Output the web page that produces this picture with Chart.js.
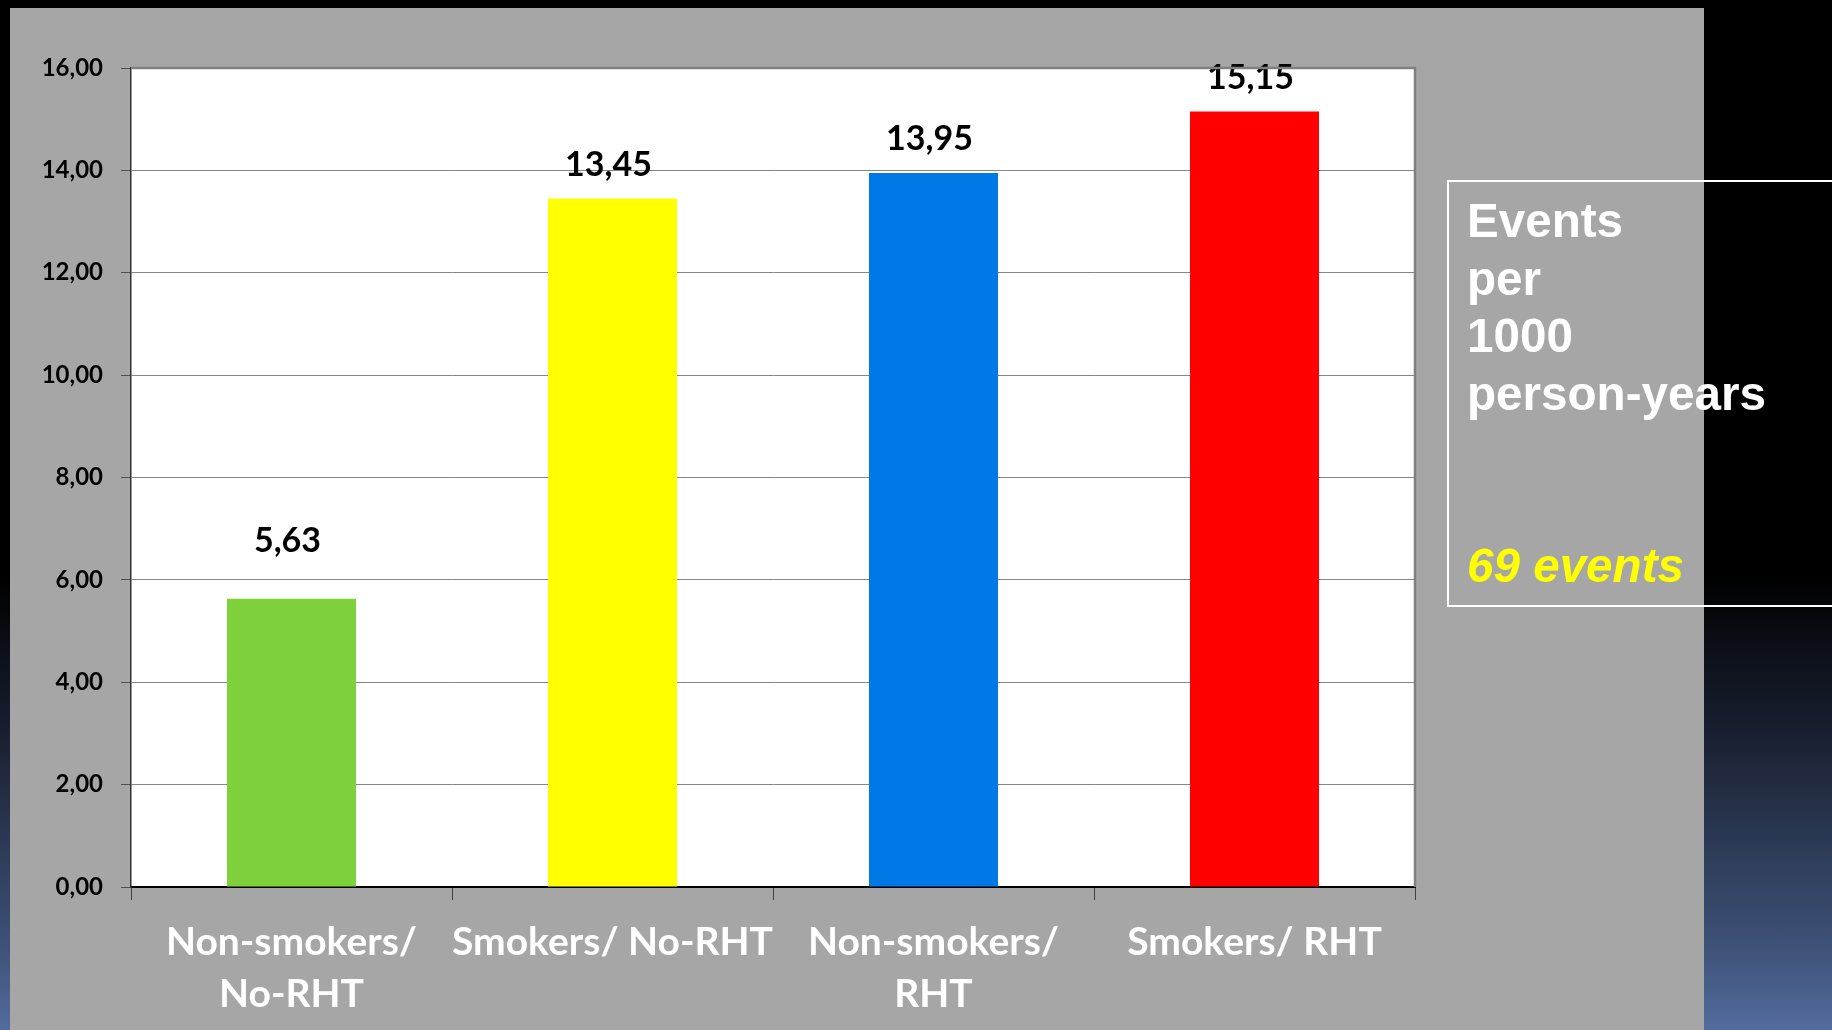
<!DOCTYPE html>
<html>
<head>
<meta charset="utf-8">
<title>Events per 1000 person-years</title>
<script src="https://cdn.jsdelivr.net/npm/chart.js@4.4.1/dist/chart.umd.min.js"></script>
<style>
  html, body { margin: 0; padding: 0; width: 1832px; height: 1030px; overflow: hidden; }
  body {
    position: relative;
    background: linear-gradient(to bottom, #000 0%, #000 56%, #0a0d14 62%, #1a2133 72%, #2c3a55 82%, #3e5278 92%, #536b9d 100%);
    font-family: 'Liberation Sans', Arial, sans-serif;
  }
  #panel { position: absolute; left: 10px; top: 8px; width: 1694px; height: 1022px; background: #a6a6a6; }
  #wrap { position: absolute; left: 0; top: 0; width: 1832px; height: 1030px; }
  #note {
    position: absolute; left: 1447px; top: 180px; width: 420px; height: 427px;
    border: 2px solid #fff; box-sizing: border-box;
  }
  #note .txt {
    position: absolute; left: 18px; white-space: nowrap;
    font-weight: bold; font-size: 47.6px; line-height: 57.5px;
  }
  #unit { top: 10px; color: #fff; }
  #count { top: 355px; color: #ffff00; font-style: italic; }
</style>
</head>
<body>
<div id="panel"></div>
<div id="wrap"><canvas id="chart" width="1832" height="1030"></canvas></div>
<div id="note">
  <div class="txt" id="unit">Events<br>per<br>1000<br>person-years</div>
  <div class="txt" id="count">69 events</div>
</div>
<script>
// Incidence by smoking status and hormone therapy
const categories = [
  ['Non-smokers/', 'No-RHT'],
  ['Smokers/ No-RHT'],
  ['Non-smokers/', 'RHT'],
  ['Smokers/ RHT']
];
const rates = [5.63, 13.45, 13.95, 15.15];
const yTickLabels = ['0,00', '2,00', '4,00', '6,00', '8,00', '10,00', '12,00', '14,00', '16,00'];
const barColors = ['#7fd13b', '#ffff00', '#0079e6', '#ff0000'];

const fmt = v => v.toFixed(2).replace('.', ',');

// white plot area plus the grey frame on its top and right edges
const plotFrame = {
  id: 'plotFrame',
  beforeDraw(chart) {
    const { ctx, chartArea: a } = chart;
    ctx.save();
    ctx.fillStyle = '#ffffff';
    ctx.fillRect(a.left, a.top, a.right - a.left, a.bottom - a.top);
    ctx.restore();
  },
  afterDraw(chart) {
    const { ctx, chartArea: a } = chart;
    ctx.save();
    ctx.strokeStyle = '#808080';
    ctx.lineWidth = 2.5;
    ctx.beginPath();
    ctx.moveTo(a.left, a.top);
    ctx.lineTo(a.right, a.top);
    ctx.lineTo(a.right, a.bottom);
    ctx.stroke();
    ctx.restore();
  }
};

// value printed above each bar
const valueLabels = {
  id: 'valueLabels',
  afterDatasetsDraw(chart, args, opts) {
    const { ctx } = chart;
    const meta = chart.getDatasetMeta(0);
    ctx.save();
    ctx.font = opts.font;
    ctx.fillStyle = opts.color;
    ctx.textAlign = 'center';
    ctx.textBaseline = 'alphabetic';
    meta.data.forEach((bar, i) => {
      const lift = opts.gap + (opts.extraLift[i] || 0);
      ctx.fillText(fmt(chart.data.datasets[0].data[i]), bar.x - 4, bar.y - lift);
    });
    ctx.restore();
  }
};

function draw() {
  new Chart(document.getElementById('chart'), {
    type: 'bar',
    data: {
      labels: categories,
      datasets: [{
        data: rates,
        backgroundColor: barColors,
        borderWidth: 0,
        categoryPercentage: 1,
        barPercentage: 0.402
      }]
    },
    options: {
      responsive: false,
      devicePixelRatio: 1,
      animation: false,
      events: [],
      layout: { padding: { top: 68, right: 417, left: 0, bottom: 0 } },
      plugins: {
        legend: { display: false },
        tooltip: { enabled: false },
        valueLabels: {
          font: 'bold 34px Lato',
          color: '#000000',
          gap: 23,
          extraLift: [24, 0, 0, 0]
        }
      },
      scales: {
        x: {
          offset: true,
          grid: {
            offset: true,
            drawOnChartArea: false,
            drawTicks: true,
            tickLength: 13,
            tickColor: '#404040',
            tickWidth: 1
          },
          border: { display: true, color: '#000000', width: 2 },
          ticks: {
            color: '#ffffff',
            font: { family: 'Lato', weight: 'bold', size: 39, lineHeight: 52 / 39 },
            padding: 16,
            maxRotation: 0,
            autoSkip: false
          },
          afterFit(scale) { scale.height = 143; }
        },
        y: {
          min: 0,
          max: 16,
          ticks: {
            stepSize: 2,
            color: '#000000',
            font: { family: 'Lato', weight: 'bold', size: 24 },
            padding: 18,
            callback: (v, i) => yTickLabels[i]
          },
          grid: {
            color: '#858585',
            lineWidth: 1,
            drawTicks: true,
            tickLength: 10,
            tickColor: '#505050'
          },
          border: { display: true, color: '#303030', width: 1.5 },
          afterFit(scale) { scale.width = 131; }
        }
      }
    },
    plugins: [plotFrame, valueLabels]
  });
}

Promise.all([
  document.fonts.load('bold 39px Lato'),
  document.fonts.load('bold 24px Lato')
]).then(draw, draw);
</script>
</body>
</html>
